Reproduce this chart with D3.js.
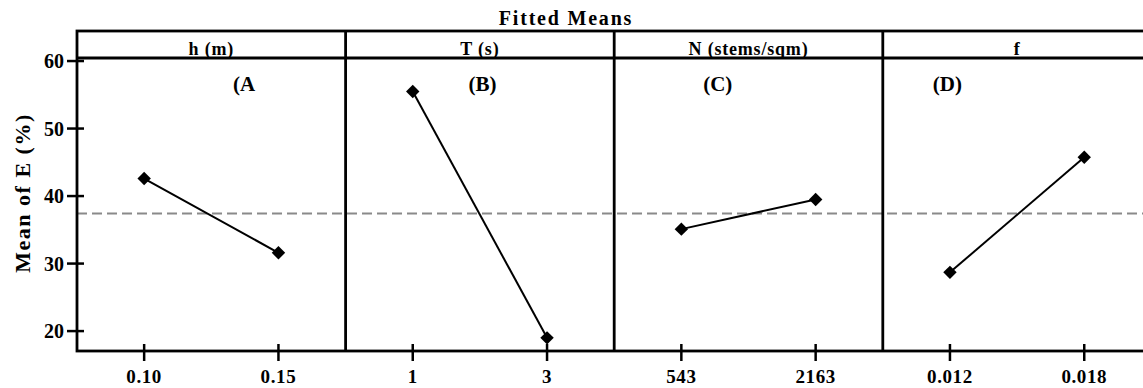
<!doctype html>
<html lang="en">
<head>
<meta charset="utf-8">
<title>Fitted Means</title>
<style>
  body { margin: 0; background: #fff; }
  svg text { font-family: "Liberation Serif", "Times New Roman", serif; font-weight: bold; fill: #000; }
</style>
<script src="https://d3js.org/d3.v7.min.js"></script>
</head>
<body>
<div id="chart"></div>
<script>
// data
var panelTitles = ["h (m)", "T (s)", "N (stems/sqm)", "f"];
var panelTags = ["(A", "(B)", "(C)", "(D)"];
var levelLabels = [["0.10", "0.15"], ["1", "3"], ["543", "2163"], ["0.012", "0.018"]];
var meanValues = [[42.6, 31.6], [55.5, 19.0], [35.1, 39.5], [28.7, 45.75]];
var grandMean = 37.4;
var yTicks = [20, 30, 40, 50, 60];

// layout
var W = 1143, H = 388;
var left = 77, panelW = 268.6;
var frameTop = 31, headerH = 27, bottom = 351;
var tagOffsets = [156, 123, 89, 50];

var svg = d3.select("#chart").append("svg")
    .attr("width", W).attr("height", H);

var y = d3.scaleLinear()
    .domain([17.05, 60.45])
    .range([bottom, frameTop + headerH]);

// title
svg.append("text")
    .attr("x", 566).attr("y", 25)
    .attr("text-anchor", "middle")
    .style("font-size", "20px")
    .style("letter-spacing", "1.8px")
    .text("Fitted Means");

// y label
svg.append("text")
    .attr("transform", "translate(30," + 193 + ") rotate(-90)")
    .attr("text-anchor", "middle")
    .style("font-size", "22px")
    .style("letter-spacing", "1.5px")
    .text("Mean of E (%)");

// y axis ticks
var yAxis = svg.append("g");
yAxis.selectAll("line").data(yTicks).enter().append("line")
    .attr("x1", left - 10).attr("x2", left + 7)
    .attr("y1", function(d) { return y(d); })
    .attr("y2", function(d) { return y(d); })
    .attr("stroke", "#000").attr("stroke-width", 2.5);
yAxis.selectAll("text").data(yTicks).enter().append("text")
    .attr("x", left - 13)
    .attr("y", function(d) { return y(d); })
    .attr("dy", "0.35em")
    .attr("text-anchor", "end")
    .style("font-size", "20px")
    .text(function(d) { return d; });

// grand mean dashed reference
svg.append("line")
    .attr("x1", left).attr("x2", W)
    .attr("y1", y(grandMean)).attr("y2", y(grandMean))
    .attr("stroke", "#8a8a8a").attr("stroke-width", 2)
    .attr("stroke-dasharray", "10,5");

var line = d3.line()
    .x(function(d) { return d.x; })
    .y(function(d) { return y(d.v); });

var diamond = d3.symbol().type(d3.symbolSquare).size(90);

panelTitles.forEach(function(title, i) {
    var x0 = left + i * panelW;
    var x = d3.scalePoint()
        .domain(levelLabels[i])
        .range([x0, x0 + panelW])
        .padding(0.5);

    var g = svg.append("g");

    // header text
    g.append("text")
        .attr("x", x0 + panelW / 2).attr("y", 55)
        .attr("text-anchor", "middle")
        .style("font-size", "18px")
        .style("letter-spacing", "0.8px")
        .text(title);

    // panel tag
    g.append("text")
        .attr("x", x0 + tagOffsets[i]).attr("y", 91)
        .style("font-size", "21px")
        .text(panelTags[i]);

    // x ticks and labels
    g.selectAll(".xt").data(levelLabels[i]).enter().append("line")
        .attr("x1", function(d) { return x(d); })
        .attr("x2", function(d) { return x(d); })
        .attr("y1", bottom - 7).attr("y2", bottom + 10)
        .attr("stroke", "#000").attr("stroke-width", 2.5);
    g.selectAll(".xl").data(levelLabels[i]).enter().append("text")
        .attr("x", function(d) { return x(d); })
        .attr("y", 383)
        .attr("text-anchor", "middle")
        .style("font-size", "19px")
        .style("letter-spacing", "0.6px")
        .text(function(d) { return d; });

    var pts = levelLabels[i].map(function(l, j) {
        return { x: x(l), v: meanValues[i][j] };
    });

    g.append("path")
        .datum(pts)
        .attr("d", line)
        .attr("fill", "none")
        .attr("stroke", "#000")
        .attr("stroke-width", 2);

    g.selectAll(".pt").data(pts).enter().append("path")
        .attr("d", diamond)
        .attr("transform", function(d) {
            return "translate(" + d.x + "," + y(d.v) + ") rotate(45)";
        })
        .attr("fill", "#000");
});

// frame: outer box, header divider, panel dividers
var frame = svg.append("g")
    .attr("fill", "none").attr("stroke", "#000").attr("stroke-width", 2.8);
var right = left + panelTitles.length * panelW;
frame.append("rect")
    .attr("x", left).attr("y", frameTop)
    .attr("width", right - left).attr("height", bottom - frameTop);
frame.append("line")
    .attr("x1", left).attr("x2", right)
    .attr("y1", frameTop + headerH).attr("y2", frameTop + headerH);
frame.selectAll(".div").data(d3.range(1, panelTitles.length)).enter().append("line")
    .attr("x1", function(d) { return left + d * panelW; })
    .attr("x2", function(d) { return left + d * panelW; })
    .attr("y1", frameTop).attr("y2", bottom);
</script>
</body>
</html>
